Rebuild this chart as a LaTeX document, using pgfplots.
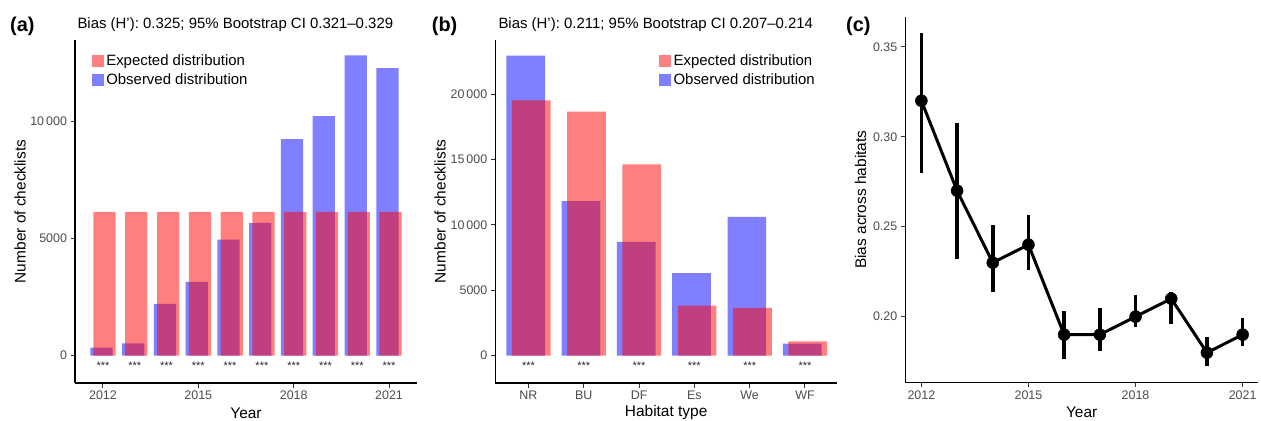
\documentclass[border=0pt]{standalone}
\usepackage{fontspec}
\setmainfont{Liberation Sans}
\usepackage{pgfplots}
\pgfplotsset{compat=1.18}

\definecolor{tickgrey}{HTML}{4D4D4D}

\pgfplotsset{
  panel/.style={
    scale only axis,
    axis lines=left,
    axis line style={-, line width=1.1bp, black},
    tick align=outside,
    major tick length=4.5bp,
    tick style={line width=1bp, color=black!80},
    ticklabel style={font=\fontsize{12.5}{15}\selectfont, text=tickgrey},
    scaled ticks=false,
    /pgf/number format/assume math mode=true,
    every axis x label/.style={at={(rel axis cs:0.5,0)}, yshift=-30bp, anchor=center, font=\fontsize{15.5}{18}\selectfont},
    clip=false,
  },
  ylab/.style={every axis y label/.style={at={(rel axis cs:0,0.5)}, xshift=#1, rotate=90, anchor=center, font=\fontsize{15.5}{18}\selectfont}},
  barlegend/.style={
    legend style={draw=none, fill=none, inner sep=0pt, row sep=2.8bp,
      font=\fontsize{15}{18}\selectfont,
      nodes={inner xsep=3bp, inner ysep=1bp, text height=11bp, text depth=3.2bp}},
    legend cell align=left,
  },
  sq/.style={legend image code/.code={\fill[#1] (0bp,-5.5bp) rectangle (11bp,5.5bp);}},
  obs/.style={ybar, bar width=0.7, bar shift=-0.05, fill=blue, fill opacity=0.5, draw=none},
  expd/.style={ybar, bar width=0.7, bar shift=0.05, fill=red, fill opacity=0.5, draw=none},
  stars/.style={only marks, mark=text, text mark={***}, text mark as node=true,
    text mark style={font=\fontsize{11}{11}\selectfont, text=black!85, anchor=center, inner sep=0pt}},
}

\begin{document}
\begin{tikzpicture}
\path[use as bounding box] (0,0) rectangle (1261bp,421bp);

% (a) checklists per year
\begin{axis}[panel, ylab=-55bp, barlegend, at={(75bp,38bp)}, anchor=south west,
  width=342bp, height=343bp,
  xmin=2011.12, xmax=2021.88, ymin=-1166, ymax=13457,
  xtick={2012,2015,2018,2021}, xticklabels={2012,2015,2018,2021},
  ytick={0,5000,10000}, yticklabels={0,5000,10\,000},
  xlabel={Year}, ylabel={Number of checklists},
  legend style={at={(rel axis cs:0.0488,0.9624)}, anchor=north west}]
\addlegendimage{sq={red!50}}
\addlegendentry{Expected distribution}
\addlegendimage{sq={blue!50}}
\addlegendentry{Observed distribution}
\addplot[obs, forget plot] coordinates {
  (2012,341) (2013,526) (2014,2205) (2015,3144) (2016,4950)
  (2017,5661) (2018,9232) (2019,10213) (2020,12802) (2021,12262)};
\addplot[expd, forget plot] coordinates {
  (2012,6134) (2013,6134) (2014,6134) (2015,6134) (2016,6134)
  (2017,6134) (2018,6134) (2019,6134) (2020,6134) (2021,6134)};
\addplot[stars, forget plot] coordinates {
  (2012,-450) (2013,-450) (2014,-450) (2015,-450) (2016,-450)
  (2017,-450) (2018,-450) (2019,-450) (2020,-450) (2021,-450)};
\end{axis}

% (b) checklists per habitat
\begin{axis}[panel, ylab=-55.3bp, barlegend, at={(495.3bp,38bp)}, anchor=south west,
  width=341.7bp, height=343bp,
  xmin=-0.6, xmax=5.58, ymin=-2092, ymax=24133,
  xtick={0,1,2,3,4,5}, xticklabels={NR,BU,DF,Es,We,WF},
  ytick={0,5000,10000,15000,20000}, yticklabels={0,5000,10\,000,15\,000,20\,000},
  xlabel={Habitat type}, ylabel={Number of checklists},
  legend style={at={(rel axis cs:0.479,0.9624)}, anchor=north west}]
\addlegendimage{sq={red!50}}
\addlegendentry{Expected distribution}
\addlegendimage{sq={blue!50}}
\addlegendentry{Observed distribution}
\addplot[obs, forget plot] coordinates {
  (0,22934) (1,11811) (2,8699) (3,6301) (4,10612) (5,918)};
\addplot[expd, forget plot] coordinates {
  (0,19515) (1,18648) (2,14617) (3,3827) (4,3648) (5,1097)};
\addplot[stars, forget plot] coordinates {
  (0,-800) (1,-800) (2,-800) (3,-800) (4,-800) (5,-800)};
\end{axis}

% (c) bias over years
\begin{axis}[panel, ylab=-44.6bp, at={(905.3bp,38.3bp)}, anchor=south west,
  width=352.7bp, height=366bp,
  xmin=2011.55, xmax=2021.43, ymin=0.1633, ymax=0.3667,
  xtick={2012,2015,2018,2021}, xticklabels={2012,2015,2018,2021},
  ytick={0.20,0.25,0.30,0.35}, yticklabels={0.20,0.25,0.30,0.35},
  xlabel={Year}, ylabel={Bias across habitats}]
\addplot[black, line width=3bp, mark=*, mark size=6bp,
  mark options={fill=black, line width=0.5bp},
  error bars/.cd, y dir=both, y explicit, error mark=none,
  error bar style={line width=3.6bp, black}]
  coordinates {
  (2012,0.32) += (0,0.0374) -= (0,0.0404)
  (2013,0.27) += (0,0.0374) -= (0,0.0381)
  (2014,0.23) += (0,0.0209) -= (0,0.0161)
  (2015,0.24) += (0,0.0165) -= (0,0.0139)
  (2016,0.19) += (0,0.0130) -= (0,0.0135)
  (2017,0.19) += (0,0.0150) -= (0,0.0091)
  (2018,0.20) += (0,0.0122) -= (0,0.0059)
  (2019,0.21) += (0,0.0037) -= (0,0.0141)
  (2020,0.18) += (0,0.0089) -= (0,0.0074)
  (2021,0.19) += (0,0.0091) -= (0,0.0061)};
\end{axis}

% titles and panel tags
\node[anchor=base west, font=\fontsize{15}{18}\selectfont] at (74bp,392.3bp)
  {Bias (H’): 0.325; 95\% Bootstrap CI 0.321–0.329};
\node[anchor=base west, font=\fontsize{15}{18}\selectfont] at (495bp,392.3bp)
  {Bias (H’): 0.211; 95\% Bootstrap CI 0.207–0.214};
\node[anchor=base west, inner sep=0pt, font=\bfseries\fontsize{20}{24}\selectfont] at (10bp,389.3bp) {(a)};
\node[anchor=base west, inner sep=0pt, font=\bfseries\fontsize{20}{24}\selectfont] at (431.7bp,389.3bp) {(b)};
\node[anchor=base west, inner sep=0pt, font=\bfseries\fontsize{20}{24}\selectfont] at (846bp,389.3bp) {(c)};
\end{tikzpicture}
\end{document}
